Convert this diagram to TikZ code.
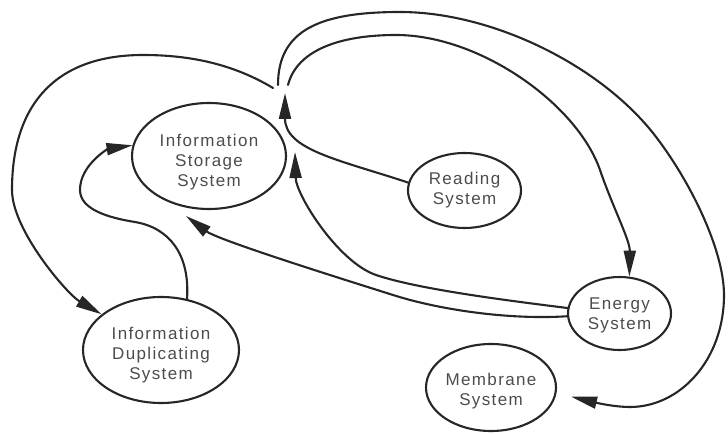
\documentclass[tikz,border=0pt]{standalone}
\usepackage{fontspec}
\setmainfont{Liberation Sans}[LetterSpace=8]
\usetikzlibrary{arrows.meta,shapes.geometric}
\tikzset{
  sys/.style={ellipse,draw=black!85,line width=2.1pt,text=black!70,align=center,
    inner sep=0pt,font=\fontsize{17}{20}\selectfont},
  link/.style={draw=black!85,line width=2.1pt,line cap=round,
    -{Triangle[length=26pt 0 0,width=12pt 0 0]}}
}
% invisible strut that pushes a label down a little
\newcommand{\sinkby}[1]{\rule{0pt}{#1}}

\begin{document}
\begin{tikzpicture}[x=1pt,y=-1pt]
      \useasboundingbox (0,0) rectangle (728,435);
      % Systems
      \node[sys,minimum width=154pt,minimum height=106pt] (store) at (209,156) {\sinkby{24pt}Information\\Storage\\System};
      \node[sys,minimum width=156pt,minimum height=106pt] (dup) at (161,350) {\sinkby{22pt}Information\\Duplicating\\System};
      \node[sys,minimum width=113pt,minimum height=75pt] (read) at (464.5,190.5) {Reading\\System};
      \node[sys,minimum width=103pt,minimum height=73pt] (energy) at (619.5,313.5) {\sinkby{15pt}Energy\\System};
      \node[sys,minimum width=130pt,minimum height=87pt] (memb) at (491,387.5) {\sinkby{20pt}Membrane\\System};
      % Branch point and loose ends
      \coordinate (hub) at (285,93);
      \coordinate (hubL) at (273,88);
      \coordinate (hubO) at (278,85);
      \coordinate (hubI) at (288,85);
      \coordinate (feedA) at (295,152);
      \coordinate (feedB) at (186,216);
      % Reading feeds the branch point
      \draw[link] (read.172) .. controls (340,160) and (285,150) .. (hub);
      % Branches
      \draw[link] (hubL) .. controls (233,64) and (190,55) .. (143,55)
        .. controls (58,55) and (12,102) .. (12,190)
        .. controls (12,230) and (67,294) .. (dup.149);
      \draw[link,shorten >=15pt] (hubO) .. controls (278,30) and (320,12) .. (400,12)
        .. controls (490,12) and (597,63) .. (653,133)
        .. controls (690,180) and (724,250) .. (724,295)
        .. controls (724,360) and (680,407) .. (630,407)
        .. controls (610,407) and (585,400) .. (memb.-5);
      \draw[link] (hubI) .. controls (297,50) and (340,35) .. (396,35)
        .. controls (480,35) and (577,104) .. (600,170)
        .. controls (613,208) and (630,240) .. (energy.75);
      % Energy supply
      \draw[link] (energy.174) .. controls (520,302) and (420,290) .. (376,275)
        .. controls (338,262) and (296,195) .. (feedA);
      \draw[link] (energy.183) .. controls (510,320) and (440,310) .. (393,295)
        .. controls (336,277) and (218,240) .. (feedB);
      % Duplication loop
      \draw[link] (dup.63) .. controls (190,255) and (170,228) .. (135,222)
        .. controls (110,218) and (80,210) .. (80,190)
        .. controls (80,165) and (108,149) .. (store.172);
\end{tikzpicture}
\end{document}
